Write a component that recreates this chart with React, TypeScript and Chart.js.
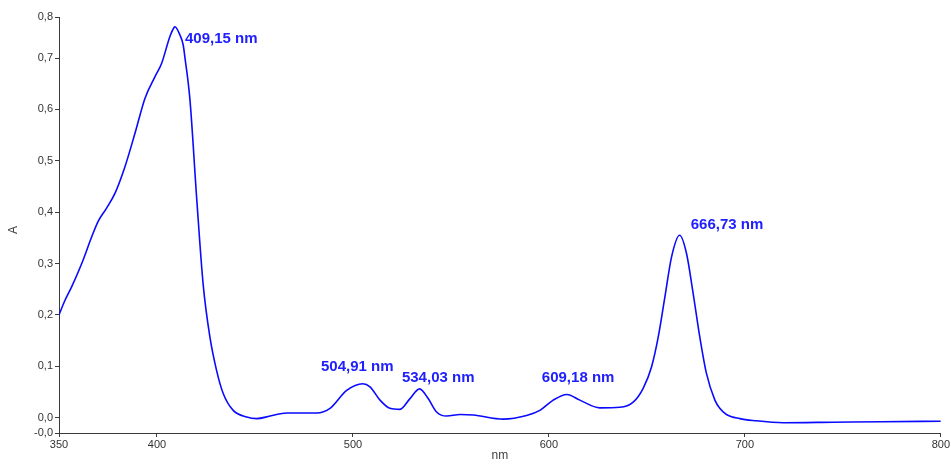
import React, { useEffect, useRef } from "react";
import { Chart, registerables } from "chart.js";

Chart.register(...registerables);

const WAVELENGTHS = [
  350, 353, 356.5, 361.6, 366.7, 370.1, 374.3, 378.6, 383.7, 388.8, 393.9, 399.0,
  402.4, 406.6, 408.8, 409.15, 411.7, 413.4, 414.3, 416.8, 420.3, 423.6, 427.0,
  430.4, 433.8, 438.9, 445.8, 451, 457.7, 466.2, 481.5, 488.3, 496.8, 505, 508.7,
  513.8, 518.9, 524.0, 529.1, 534.0, 538.4, 542.7, 547.8, 554.6, 561.4, 576.7,
  588.6, 595.4, 602.2, 609.2, 615.8, 626.0, 636.2, 643.0, 648.1, 652.4, 655.8,
  659.2, 662.6, 666.7, 670.2, 673.6, 677.0, 680.4, 684.7, 687.2, 690.6, 697.4,
  705, 719.6, 745, 770, 800,
];

const ABSORBANCE = [
  0.2, 0.228, 0.255, 0.3, 0.352, 0.383, 0.408, 0.437, 0.489, 0.554, 0.622, 0.664,
  0.69, 0.742, 0.76, 0.761, 0.745, 0.725, 0.7, 0.62, 0.425, 0.258, 0.157,
  0.092, 0.047, 0.014, 0.001, -0.002, 0.003, 0.009, 0.009, 0.018, 0.053, 0.066, 0.06,
  0.034, 0.018, 0.016, 0.037, 0.056, 0.037, 0.011, 0.003, 0.006, 0.005, -0.003,
  0.004, 0.014, 0.034, 0.045, 0.034, 0.019, 0.02, 0.03, 0.057, 0.099, 0.157,
  0.235, 0.313, 0.355, 0.32, 0.242, 0.157, 0.086, 0.034, 0.018, 0.006, -0.002,
  -0.006, -0.01, -0.009, -0.008, -0.007,
];

const X_TICKS = [350, 400, 500, 600, 700, 800];
const Y_TICKS = [-0.03, 0, 0.1, 0.2, 0.3, 0.4, 0.5, 0.6, 0.7, 0.78];

const PEAK_LABELS = ["409,15 nm", "504,91 nm", "534,03 nm", "609,18 nm", "666,73 nm"];
const PEAK_LABEL_X = [414.3, 483.7, 525.0, 596.4, 672.4];
const PEAK_LABEL_Y = [0.737, 0.098, 0.0766, 0.0766, 0.375];

const AXIS_COLOR = "#3a3a3a";
const TICK_FONT = { family: "'Liberation Sans', Arial, sans-serif", size: 11 };

export default function App() {
  const canvasRef = useRef<HTMLCanvasElement | null>(null);

  useEffect(() => {
    if (!canvasRef.current) return;

    const overlay = {
      id: "overlay",
      afterDraw(chart: any) {
        const ctx = chart.ctx;
        const xs = chart.scales.x;
        const ys = chart.scales.y;
        const area = chart.chartArea;
        ctx.save();
        ctx.fillStyle = "#2020ff";
        ctx.font = "bold 15px 'Liberation Sans', Arial, sans-serif";
        ctx.textAlign = "left";
        ctx.textBaseline = "middle";
        PEAK_LABELS.forEach((t, i) => {
          ctx.fillText(t, xs.getPixelForValue(PEAK_LABEL_X[i]), ys.getPixelForValue(PEAK_LABEL_Y[i]));
        });
        ctx.fillStyle = "#404040";
        ctx.font = "12px 'Liberation Sans', Arial, sans-serif";
        ctx.textAlign = "center";
        ctx.fillText("nm", (area.left + area.right) / 2, 456);
        ctx.translate(14, (area.top + area.bottom) / 2 + 5);
        ctx.rotate(-Math.PI / 2);
        ctx.fillText("A", 0, 0);
        ctx.restore();
      },
    };

    const chart = new Chart(canvasRef.current, {
      type: "line",
      data: {
        datasets: [
          {
            data: WAVELENGTHS.map((x, i) => ({ x, y: ABSORBANCE[i] })),
            borderColor: "#0a0aff",
            borderWidth: 1.6,
            pointRadius: 0,
            fill: false,
            cubicInterpolationMode: "monotone",
          },
        ],
      },
      options: {
        animation: false,
        responsive: true,
        maintainAspectRatio: false,
        layout: { padding: { top: 17, right: 10, left: 0, bottom: 0 } },
        plugins: { legend: { display: false }, tooltip: { enabled: false } },
        scales: {
          x: {
            type: "linear",
            min: 350,
            max: 800,
            afterBuildTicks: (s: any) => {
              s.ticks = X_TICKS.map((v) => ({ value: v }));
            },
            afterFit: (s: any) => {
              s.height = 31;
            },
            ticks: {
              autoSkip: false,
              maxRotation: 0,
              padding: 1,
              color: "#333",
              font: TICK_FONT,
              callback: (v: any) => String(v),
            },
            grid: { drawOnChartArea: false, drawTicks: true, tickLength: 4, color: AXIS_COLOR },
            border: { display: true, color: AXIS_COLOR, width: 1 },
          },
          y: {
            type: "linear",
            min: -0.03,
            max: 0.78,
            afterBuildTicks: (s: any) => {
              s.ticks = Y_TICKS.map((v) => ({ value: v }));
            },
            afterFit: (s: any) => {
              s.width = 59;
            },
            ticks: {
              autoSkip: false,
              padding: 2,
              color: "#333",
              font: TICK_FONT,
              callback: (v: any) => Number(v).toFixed(1).replace(".", ","),
            },
            grid: { drawOnChartArea: false, drawTicks: true, tickLength: 4, color: AXIS_COLOR },
            border: { display: true, color: AXIS_COLOR, width: 1 },
          },
        },
      },
      plugins: [overlay],
    } as any);

    return () => chart.destroy();
  }, []);

  return (
    <div style={{ position: "fixed", left: 0, top: 0, width: 951, height: 464, background: "#fff" }}>
      <canvas ref={canvasRef} />
    </div>
  );
}
